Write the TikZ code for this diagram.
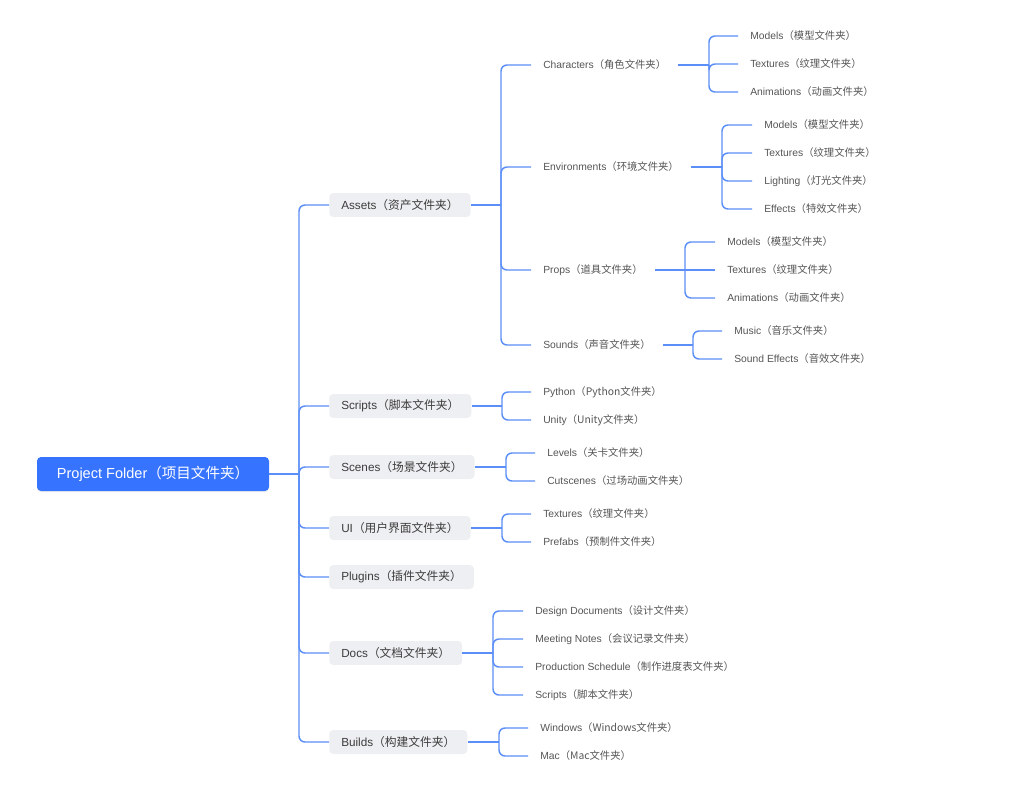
\documentclass[tikz,border=0pt]{standalone}
\usepackage{fontspec}
\setmainfont{Liberation Sans}
\newfontfamily\cjk{Noto Sans CJK SC}
\usetikzlibrary{shadows}
\definecolor{linec}{HTML}{5B8EF7}
\definecolor{rootc}{HTML}{3673FF}
\definecolor{lonec}{HTML}{EEEFF2}
\definecolor{lonet}{HTML}{3C3C3C}
\definecolor{ltwot}{HTML}{555555}
\newcommand{\flab}[2]{#1{\cjk （#2文件夹）}}
\tikzset{
  conn/.style={draw=linec, line width=1.1pt, rounded corners=4.5pt},
  rootnode/.style={fill=rootc, text=white, rounded corners=3pt, minimum width=174pt, minimum height=25.5pt, inner sep=0pt, font=\fontsize{10.9}{12}\selectfont, drop shadow={opacity=0.12, shadow xshift=0pt, shadow yshift=-1pt}},
  lone/.style={fill=lonec, text=lonet, rounded corners=3pt, inner xsep=9pt, inner ysep=0pt, minimum height=18pt, anchor=west, font=\fontsize{8.8}{10}\selectfont},
  ltwo/.style={text=ltwot, inner xsep=9pt, inner ysep=0pt, minimum height=15pt, anchor=west, font=\fontsize{7.75}{9}\selectfont},
}
\begin{document}
\begin{tikzpicture}[x=0.75pt, y=-0.75pt]
\useasboundingbox (0,0) rectangle (1024,789);
% root
\node[rootnode] (root) at (153,474) {\flab{Project Folder}{项目}};
% level 1
\node[lone] (a) at (329,205) {\flab{Assets}{资产}};
\node[lone] (s) at (329,406) {\flab{Scripts}{脚本}};
\node[lone] (c) at (329,467) {\flab{Scenes}{场景}};
\node[lone] (u) at (329,528) {\flab{UI}{用户界面}};
\node[lone] (p) at (329,577) {\flab{Plugins}{插件}};
\node[lone] (d) at (329,653) {\flab{Docs}{文档}};
\node[lone] (b) at (329,742) {\flab{Builds}{构建}};
% assets children
\node[ltwo] (a1) at (531,65) {\flab{Characters}{角色}};
\node[ltwo] (a2) at (531,167) {\flab{Environments}{环境}};
\node[ltwo] (a3) at (531,270) {\flab{Props}{道具}};
\node[ltwo] (a4) at (531,345) {\flab{Sounds}{声音}};
\node[ltwo] (a11) at (738,36) {\flab{Models}{模型}};
\node[ltwo] (a12) at (738,64) {\flab{Textures}{纹理}};
\node[ltwo] (a13) at (738,92) {\flab{Animations}{动画}};
\node[ltwo] (a21) at (752,125) {\flab{Models}{模型}};
\node[ltwo] (a22) at (752,153) {\flab{Textures}{纹理}};
\node[ltwo] (a23) at (752,181) {\flab{Lighting}{灯光}};
\node[ltwo] (a24) at (752,209) {\flab{Effects}{特效}};
\node[ltwo] (a31) at (715,242) {\flab{Models}{模型}};
\node[ltwo] (a32) at (715,270) {\flab{Textures}{纹理}};
\node[ltwo] (a33) at (715,298) {\flab{Animations}{动画}};
\node[ltwo] (a41) at (722,331) {\flab{Music}{音乐}};
\node[ltwo] (a42) at (722,359) {\flab{Sound Effects}{音效}};
% scripts
\node[ltwo] (s1) at (531,392) {\flab{Python}{Python}};
\node[ltwo] (s2) at (531,420) {\flab{Unity}{Unity}};
% scenes
\node[ltwo] (c1) at (535,453) {\flab{Levels}{关卡}};
\node[ltwo] (c2) at (535,481) {\flab{Cutscenes}{过场动画}};
% ui
\node[ltwo] (u1) at (531,514) {\flab{Textures}{纹理}};
\node[ltwo] (u2) at (531,542) {\flab{Prefabs}{预制件}};
% docs
\node[ltwo] (d1) at (523,611) {\flab{Design Documents}{设计}};
\node[ltwo] (d2) at (523,639) {\flab{Meeting Notes}{会议记录}};
\node[ltwo] (d3) at (523,667) {\flab{Production Schedule}{制作进度表}};
\node[ltwo] (d4) at (523,695) {\flab{Scripts}{脚本}};
% builds
\node[ltwo] (b1) at (528,728) {\flab{Windows}{Windows}};
\node[ltwo] (b2) at (528,756) {\flab{Mac}{Mac}};

% ---- connectors ----
\coordinate (j0) at (299,474);
\draw[conn] (root.east) -- (j0);
\foreach \n in {a,s,c,u,p,d,b}{
  \draw[conn] (j0) -- (j0 |- \n.west) -- (\n.west);
}
\coordinate (ja) at (501,205);
\draw[conn] (a.east) -- (ja);
\foreach \n in {a1,a2,a3,a4}{ \draw[conn] (ja) -- (ja |- \n.west) -- (\n.west); }
\coordinate (ja1) at (709,65);
\draw[conn] (a1.east) -- (ja1);
\foreach \n in {a11,a12,a13}{ \draw[conn] (ja1) -- (ja1 |- \n.west) -- (\n.west); }
\coordinate (ja2) at (722,167);
\draw[conn] (a2.east) -- (ja2);
\foreach \n in {a21,a22,a23,a24}{ \draw[conn] (ja2) -- (ja2 |- \n.west) -- (\n.west); }
\coordinate (ja3) at (685,270);
\draw[conn] (a3.east) -- (ja3) -- (a32.west);
\foreach \n in {a31,a33}{ \draw[conn] (ja3) -- (ja3 |- \n.west) -- (\n.west); }
\coordinate (ja4) at (693,345);
\draw[conn] (a4.east) -- (ja4);
\foreach \n in {a41,a42}{ \draw[conn] (ja4) -- (ja4 |- \n.west) -- (\n.west); }
\coordinate (js) at (502,406);
\draw[conn] (s.east) -- (js);
\foreach \n in {s1,s2}{ \draw[conn] (js) -- (js |- \n.west) -- (\n.west); }
\coordinate (jc) at (506,467);
\draw[conn] (c.east) -- (jc);
\foreach \n in {c1,c2}{ \draw[conn] (jc) -- (jc |- \n.west) -- (\n.west); }
\coordinate (ju) at (502,528);
\draw[conn] (u.east) -- (ju);
\foreach \n in {u1,u2}{ \draw[conn] (ju) -- (ju |- \n.west) -- (\n.west); }
\coordinate (jd) at (493,653);
\draw[conn] (d.east) -- (jd);
\foreach \n in {d1,d2,d3,d4}{ \draw[conn] (jd) -- (jd |- \n.west) -- (\n.west); }
\coordinate (jb) at (499,742);
\draw[conn] (b.east) -- (jb);
\foreach \n in {b1,b2}{ \draw[conn] (jb) -- (jb |- \n.west) -- (\n.west); }
\end{tikzpicture}
\end{document}
